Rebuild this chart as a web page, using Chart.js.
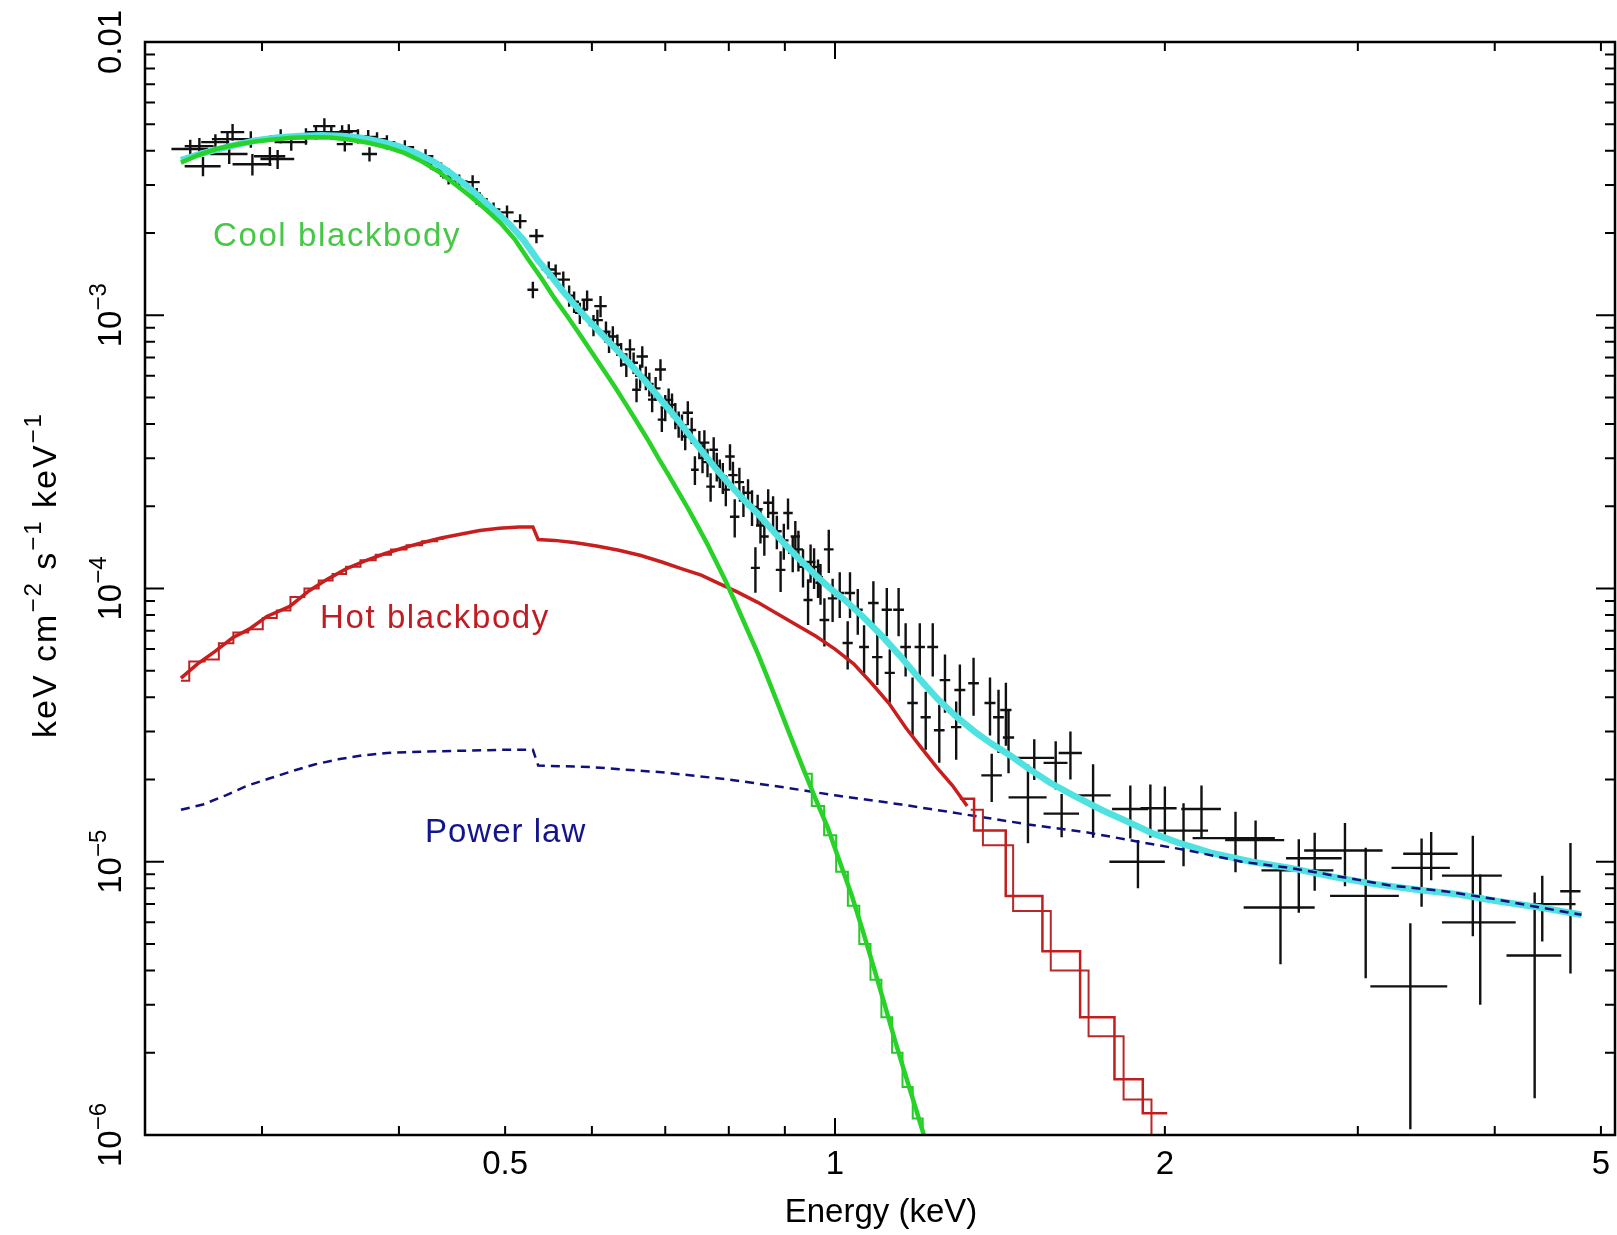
<!DOCTYPE html>
<html>
<head>
<meta charset="utf-8">
<script src="https://cdn.jsdelivr.net/npm/chart.js@4.4.1/dist/chart.umd.min.js"></script>
<style>
  html, body { margin: 0; padding: 0; background: #fff; }
  #wrap { width: 1617px; height: 1235px; }
</style>
</head>
<body>
<div id="wrap"><canvas id="spec" width="1617" height="1235"></canvas></div>
<script>
// axis limits (keV and keV cm^-2 s^-1 keV^-1)
const xMin = 0.2346, xMax = 5.15;
const yMin = 1e-6, yMax = 1e-2;

// tick marks and labels
const xTickVals = [0.3, 0.4, 0.5, 0.6, 0.7, 0.8, 0.9, 1, 2, 3, 4, 5];
const xMajorVals = [1];
const xTickLabels = [0.5, 1, 2, 5];
const yDecades = [1e-6, 1e-5, 1e-4, 1e-3, 1e-2];
const yTickLabels = [['10', '\u22126'], ['10', '\u22125'], ['10', '\u22124'], ['10', '\u22123'], ['0.01', '']];

// cool blackbody model (green)
const coolE = [0.253, 0.262, 0.272, 0.283, 0.295, 0.307, 0.320, 0.333, 0.346, 0.360, 0.375, 0.390, 0.405, 0.420,
  0.435, 0.450, 0.465, 0.480, 0.495, 0.510, 0.525, 0.540, 0.555, 0.570, 0.585, 0.600, 0.615, 0.630, 0.645, 0.660,
  0.675, 0.690, 0.705, 0.720, 0.735, 0.750, 0.765, 0.780, 0.795, 0.810, 0.830, 0.850, 0.870, 0.890, 0.910, 0.935,
  0.960, 0.985, 1.010, 1.035, 1.060, 1.085, 1.110, 1.135, 1.160, 1.185, 1.210];
const coolF = [3.62e-3, 3.85e-3, 4.05e-3, 4.2e-3, 4.32e-3, 4.4e-3, 4.46e-3, 4.48e-3, 4.47e-3, 4.4e-3, 4.28e-3, 4.12e-3, 3.92e-3, 3.65e-3,
  3.35e-3, 3.02e-3, 2.72e-3, 2.44e-3, 2.18e-3, 1.9e-3, 1.6e-3, 1.36e-3, 1.15e-3, 9.9e-4, 8.5e-4, 7.3e-4, 6.3e-4, 5.45e-4, 4.7e-4, 4.05e-4,
  3.5e-4, 3.0e-4, 2.6e-4, 2.25e-4, 1.95e-4, 1.68e-4, 1.45e-4, 1.24e-4, 1.06e-4, 9.0e-5, 7.2e-5, 5.8e-5, 4.6e-5, 3.65e-5, 2.9e-5, 2.2e-5,
  1.7e-5, 1.33e-5, 1.0e-5, 7.6e-6, 5.6e-6, 4.1e-6, 3.0e-6, 2.2e-6, 1.65e-6, 1.25e-6, 9.5e-7];
// second green histogram trace visible in the steep tail
const cool2E = [0.940, 0.965, 0.990, 1.015, 1.040, 1.065, 1.090, 1.115, 1.140, 1.165, 1.190, 1.215];
const cool2F = [2.1e-5, 1.6e-5, 1.25e-5, 9.2e-6, 6.9e-6, 5.0e-6, 3.7e-6, 2.7e-6, 2.0e-6, 1.5e-6, 1.15e-6, 8.8e-7];

// hot blackbody model (red), smooth part
const hotE = [0.253, 0.262, 0.272, 0.282, 0.292, 0.303, 0.318, 0.331, 0.344, 0.358, 0.372, 0.388, 0.404, 0.420, 0.437,
  0.455, 0.474, 0.494, 0.515, 0.530, 0.536, 0.555, 0.580, 0.606, 0.635, 0.665, 0.695, 0.725, 0.755, 0.785, 0.815, 0.850,
  0.885, 0.920, 0.960, 1.000, 1.040, 1.080, 1.120, 1.160, 1.200, 1.240, 1.280, 1.320];
const hotF = [4.7e-5, 5.3e-5, 5.9e-5, 6.6e-5, 7.1e-5, 7.9e-5, 8.6e-5, 9.8e-5, 1.08e-4, 1.18e-4, 1.26e-4, 1.34e-4, 1.41e-4, 1.47e-4, 1.53e-4,
  1.58e-4, 1.63e-4, 1.66e-4, 1.68e-4, 1.68e-4, 1.51e-4, 1.5e-4, 1.47e-4, 1.43e-4, 1.38e-4, 1.32e-4, 1.25e-4, 1.18e-4, 1.12e-4, 1.04e-4, 9.7e-5, 8.9e-5,
  8.1e-5, 7.4e-5, 6.7e-5, 6.0e-5, 5.3e-5, 4.5e-5, 3.8e-5, 3.1e-5, 2.6e-5, 2.2e-5, 1.9e-5, 1.6e-5];
// red histogram tail, first binning
const hotTailE = [1.300, 1.380, 1.485, 1.610, 1.740, 1.860, 1.960, 2.010];
const hotTailF = [1.7e-5, 1.3e-5, 7.5e-6, 4.7e-6, 2.7e-6, 1.6e-6, 1.2e-6, 1.2e-6];
// red histogram tail, second binning
const hotTail2E = [1.330, 1.400, 1.510, 1.640, 1.770, 1.900, 1.990, 2.020];
const hotTail2F = [1.55e-5, 1.15e-5, 6.6e-6, 4.0e-6, 2.3e-6, 1.35e-6, 1.0e-6, 1.0e-6];
// red histogram steps at low energy
const hotLowE = [0.253, 0.262, 0.270, 0.278, 0.287, 0.296, 0.305, 0.314, 0.323, 0.333, 0.343, 0.353, 0.363, 0.375, 0.387,
  0.400, 0.413, 0.427, 0.440];
const hotLowF = [4.6e-5, 5.4e-5, 5.5e-5, 6.3e-5, 6.9e-5, 7.1e-5, 7.8e-5, 8.3e-5, 9.3e-5, 1.0e-4, 1.07e-4, 1.13e-4, 1.2e-4, 1.27e-4, 1.33e-4,
  1.39e-4, 1.44e-4, 1.49e-4, 1.52e-4];

// power law model (navy, dashed)
const plE = [0.253, 0.265, 0.278, 0.291, 0.305, 0.320, 0.335, 0.352, 0.370, 0.390, 0.420, 0.460, 0.500, 0.530, 0.536,
  0.600, 0.700, 0.800, 0.900, 1.000, 1.150, 1.300, 1.500, 1.700, 1.900, 2.100, 2.350, 2.600, 2.900, 3.200, 3.600,
  4.000, 4.400, 4.800];
const plF = [1.55e-5, 1.62e-5, 1.75e-5, 1.9e-5, 2.02e-5, 2.15e-5, 2.27e-5, 2.37e-5, 2.45e-5, 2.5e-5, 2.53e-5, 2.55e-5, 2.57e-5, 2.57e-5, 2.25e-5,
  2.22e-5, 2.12e-5, 2.0e-5, 1.87e-5, 1.75e-5, 1.62e-5, 1.5e-5, 1.37e-5, 1.28e-5, 1.18e-5, 1.1e-5, 1.0e-5, 9.5e-6, 8.8e-6, 8.2e-6, 7.8e-6,
  7.3e-6, 6.8e-6, 6.4e-6];

// total model (cyan)
const totE = [0.253, 0.265, 0.280, 0.295, 0.310, 0.325, 0.340, 0.355, 0.370, 0.385, 0.400, 0.415, 0.430, 0.445, 0.460,
  0.475, 0.490, 0.505, 0.520, 0.535, 0.550, 0.565, 0.580, 0.600, 0.620, 0.640, 0.660, 0.680, 0.700, 0.720, 0.740,
  0.760, 0.780, 0.800, 0.825, 0.850, 0.875, 0.900, 0.930, 0.960, 0.990, 1.020, 1.060, 1.100, 1.145, 1.190, 1.240,
  1.290, 1.340, 1.390, 1.445, 1.500, 1.570, 1.650, 1.750, 1.850, 1.950, 2.050, 2.200, 2.400, 2.600, 2.850, 3.100,
  3.400, 3.700, 4.000, 4.400, 4.800];
const totF = [3.7e-3, 3.92e-3, 4.15e-3, 4.35e-3, 4.47e-3, 4.53e-3, 4.56e-3, 4.53e-3, 4.45e-3, 4.32e-3, 4.15e-3, 3.92e-3, 3.65e-3, 3.33e-3, 3.0e-3,
  2.68e-3, 2.4e-3, 2.15e-3, 1.88e-3, 1.6e-3, 1.4e-3, 1.22e-3, 1.08e-3, 9.3e-4, 8.1e-4, 7.1e-4, 6.2e-4, 5.4e-4, 4.7e-4, 4.1e-4, 3.55e-4,
  3.1e-4, 2.72e-4, 2.42e-4, 2.12e-4, 1.88e-4, 1.65e-4, 1.45e-4, 1.27e-4, 1.12e-4, 1.0e-4, 9.1e-5, 7.9e-5, 6.8e-5, 5.7e-5, 4.75e-5, 3.95e-5,
  3.4e-5, 3.0e-5, 2.7e-5, 2.45e-5, 2.2e-5, 1.95e-5, 1.75e-5, 1.55e-5, 1.4e-5, 1.27e-5, 1.18e-5, 1.08e-5, 1.0e-5, 9.5e-6, 8.8e-6, 8.3e-6,
  7.9e-6, 7.6e-6, 7.2e-6, 6.8e-6, 6.4e-6];

// observed spectrum: bin centre, bin half width, flux, fractional flux error
const dataE = [0.258, 0.263, 0.265, 0.272, 0.279, 0.282, 0.280, 0.293, 0.294, 0.305, 0.310, 0.312, 0.319, 0.329,
  0.336, 0.342, 0.347, 0.355, 0.357, 0.360, 0.367, 0.375, 0.376, 0.382, 0.390, 0.405, 0.423, 0.428, 0.437, 0.444,
  0.454, 0.467, 0.471, 0.474, 0.488, 0.502, 0.516, 0.534, 0.530, 0.548, 0.565,
  0.572, 0.585, 0.594, 0.602, 0.611, 0.618, 0.627, 0.638, 0.650, 0.659, 0.667, 0.672, 0.681, 0.693, 0.695, 0.705,
  0.715, 0.725, 0.734, 0.745, 0.752, 0.760, 0.770, 0.775, 0.785, 0.795, 0.802, 0.810, 0.818, 0.833, 0.840, 0.846,
  0.855, 0.862, 0.869, 0.878, 0.892, 0.906, 0.915, 0.926, 0.935, 0.945, 0.957, 0.970, 0.978, 0.987, 0.995, 1.010,
  1.027, 1.032, 1.049, 1.063, 1.084, 1.093, 1.115, 1.122, 1.143, 1.160, 1.177, 1.195, 1.210, 1.228, 1.245, 1.260,
  1.290, 1.300, 1.338, 1.385, 1.410, 1.432, 1.440,
  1.39, 1.50, 1.52, 1.59, 1.64, 1.61, 1.72, 1.86, 1.89, 1.94, 2.00, 2.08, 2.16, 2.32, 2.42, 2.55, 2.65, 2.74,
  2.92, 3.05, 3.35, 3.43, 3.50, 3.82, 3.88, 4.35, 4.42, 4.69,
  0.556, 0.578, 0.590, 0.607, 0.622, 0.633, 0.645, 0.655, 0.664, 0.677, 0.686, 0.700, 0.710, 0.720, 0.730, 0.740,
  0.757, 0.765, 0.780, 0.790, 0.807, 0.825, 0.850, 0.885, 0.898, 0.920, 0.950, 0.965];
const dataEerr = [0.010, 0.008, 0.010, 0.008, 0.009, 0.007, 0.011, 0.009, 0.012, 0.010, 0.011, 0.007, 0.011, 0.008,
  0.007, 0.008, 0.009, 0.008, 0.006, 0.007, 0.008, 0.008, 0.006, 0.008, 0.007, 0.008, 0.007, 0.007, 0.008, 0.006,
  0.008, 0.007, 0.006, 0.008, 0.007, 0.007, 0.007, 0.008, 0.006, 0.008, 0.008,
  0.006, 0.006, 0.007, 0.006, 0.008, 0.006, 0.006, 0.006, 0.007, 0.006, 0.008, 0.006, 0.006, 0.008, 0.006, 0.007,
  0.007, 0.007, 0.008, 0.006, 0.007, 0.008, 0.007, 0.007, 0.007, 0.007, 0.008, 0.008, 0.008, 0.008, 0.008, 0.008,
  0.008, 0.008, 0.009, 0.009, 0.009, 0.009, 0.009, 0.009, 0.009, 0.009, 0.010, 0.010, 0.010, 0.010, 0.010, 0.010,
  0.011, 0.011, 0.011, 0.011, 0.012, 0.012, 0.012, 0.012, 0.013, 0.013, 0.013, 0.013, 0.013, 0.014, 0.014, 0.014,
  0.014, 0.015, 0.015, 0.016, 0.016, 0.017, 0.017,
  0.03, 0.06, 0.065, 0.04, 0.04, 0.06, 0.065, 0.07, 0.11, 0.04, 0.05, 0.11, 0.09, 0.20, 0.15, 0.19, 0.20, 0.16,
  0.24, 0.22, 0.27, 0.21, 0.20, 0.24, 0.30, 0.25, 0.32, 0.10,
  0.006, 0.006, 0.005, 0.007, 0.006, 0.006, 0.007, 0.006, 0.007, 0.006, 0.007, 0.007, 0.006, 0.007, 0.007, 0.007,
  0.007, 0.008, 0.007, 0.008, 0.008, 0.008, 0.009, 0.009, 0.009, 0.009, 0.010, 0.010];
const dataF = [4.06e-3, 4.16e-3, 3.51e-3, 4.3e-3, 4.41e-3, 4.68e-3, 3.89e-3, 4.41e-3, 3.57e-3, 3.82e-3, 3.73e-3, 4.52e-3, 4.3e-3, 4.52e-3,
  4.68e-3, 4.92e-3, 4.68e-3, 4.68e-3, 4.23e-3, 4.72e-3, 4.52e-3, 4.49e-3, 3.89e-3, 4.41e-3, 4.3e-3, 4.12e-3, 3.82e-3, 3.63e-3, 3.42e-3, 3.2e-3,
  3.09e-3, 3.07e-3, 2.73e-3, 2.66e-3, 2.44e-3, 2.38e-3, 2.21e-3, 1.95e-3, 1.24e-3, 1.47e-3, 1.35e-3,
  1.18e-3, 1.02e-3, 1.14e-3, 9.2e-4, 1.08e-3, 8.7e-4, 8.36e-4, 7.2e-4, 7.5e-4, 5.34e-4, 7.06e-4, 5.9e-4, 4.91e-4, 6.33e-4, 4.15e-4, 4.9e-4,
  4.3e-4, 3.9e-4, 4.4e-4, 2.72e-4, 3.4e-4, 3.42e-4, 2.36e-4, 3.22e-4, 2.65e-4, 2.3e-4, 3.04e-4, 1.83e-4, 2.45e-4, 2.24e-4, 1.99e-4, 1.19e-4,
  1.7e-4, 1.55e-4, 2.06e-4, 1.89e-4, 1.17e-4, 1.89e-4, 1.35e-4, 1.39e-4, 1.2e-4, 9.08e-5, 1.2e-4, 1.05e-4, 7.67e-5, 1.39e-4, 9.2e-5, 9.63e-5,
  6.32e-5, 9.63e-5, 8.36e-5, 6.11e-5, 8.85e-5, 5.61e-5, 8.36e-5, 4.91e-5, 8.36e-5, 6.11e-5, 3.81e-5, 6.11e-5, 3.38e-5, 6.11e-5, 3.03e-5, 4.62e-5,
  3.11e-5, 4.25e-5, 4.5e-5, 3.81e-5, 3.38e-5, 3.59e-5, 2.85e-5,
  2.07e-5, 1.72e-5, 2.4e-5, 2.3e-5, 2.5e-5, 1.5e-5, 1.75e-5, 1.56e-5, 1.0e-5, 1.57e-5, 1.57e-5, 1.3e-5, 1.56e-5, 1.22e-5, 1.2e-5, 6.8e-6, 9.3e-6, 1.03e-5,
  1.1e-5, 7.5e-6, 3.5e-6, 9.5e-6, 1.07e-5, 8.9e-6, 6.0e-6, 4.54e-6, 7.0e-6, 7.8e-6,
  1.42e-3, 1.12e-3, 1.05e-3, 9.6e-4, 8.0e-4, 7.8e-4, 6.6e-4, 6.7e-4, 6.0e-4, 5.6e-4, 5.4e-4, 4.6e-4, 4.7e-4, 4.0e-4, 3.6e-4, 3.8e-4,
  3.0e-4, 2.9e-4, 2.8e-4, 2.55e-4, 2.6e-4, 2.1e-4, 1.95e-4, 1.62e-4, 1.5e-4, 1.55e-4, 1.25e-4, 1.1e-4];
const dataFerr = [0.08, 0.07, 0.08, 0.07, 0.07, 0.07, 0.08, 0.07, 0.09, 0.08, 0.08, 0.06, 0.07, 0.07,
  0.06, 0.07, 0.06, 0.06, 0.06, 0.06, 0.06, 0.06, 0.06, 0.06, 0.06, 0.06, 0.06, 0.06, 0.06, 0.06,
  0.06, 0.06, 0.07, 0.06, 0.06, 0.06, 0.06, 0.06, 0.07, 0.07, 0.07,
  0.09, 0.09, 0.08, 0.09, 0.09, 0.09, 0.09, 0.10, 0.09, 0.10, 0.09, 0.10, 0.10, 0.09, 0.10, 0.10,
  0.11, 0.11, 0.10, 0.12, 0.11, 0.11, 0.12, 0.11, 0.12, 0.13, 0.11, 0.16, 0.13, 0.12, 0.15, 0.19,
  0.14, 0.15, 0.12, 0.15, 0.17, 0.13, 0.15, 0.17, 0.16, 0.19, 0.17, 0.17, 0.20, 0.18, 0.18, 0.19,
  0.20, 0.19, 0.19, 0.20, 0.20, 0.21, 0.20, 0.22, 0.20, 0.22, 0.24, 0.22, 0.24, 0.22, 0.24, 0.24,
  0.24, 0.24, 0.24, 0.24, 0.26, 0.26, 0.26,
  0.20, 0.32, 0.17, 0.20, 0.20, 0.18, 0.30, 0.22, 0.20, 0.22, 0.20, 0.26, 0.22, 0.25, 0.18, 0.38, 0.30, 0.24,
  0.26, 0.50, 0.70, 0.28, 0.20, 0.40, 0.50, 0.70, 0.27, 0.50,
  0.08, 0.09, 0.08, 0.09, 0.09, 0.09, 0.10, 0.09, 0.10, 0.10, 0.10, 0.11, 0.10, 0.11, 0.11, 0.11,
  0.12, 0.12, 0.12, 0.13, 0.12, 0.13, 0.13, 0.14, 0.15, 0.14, 0.16, 0.16];

function pts(xs, ys) {
  return xs.map(function (x, i) { return { x: x, y: ys[i] }; });
}

const FONT = '"Liberation Sans", Arial, sans-serif';

// text with superscripts; parts = [[text, isSup], ...]
function richWidth(ctx, parts, size) {
  let w = 0;
  parts.forEach(function (p) {
    ctx.font = (p[1] ? Math.round(size * 0.72) : size) + 'px ' + FONT;
    w += ctx.measureText(p[0]).width;
  });
  return w;
}
function drawRich(ctx, parts, size, x, y, rot, spacing) {
  ctx.save();
  ctx.letterSpacing = (spacing || 0) + 'px';
  ctx.translate(x, y);
  if (rot) ctx.rotate(rot);
  ctx.textBaseline = 'alphabetic';
  ctx.textAlign = 'left';
  let cx = -richWidth(ctx, parts, size) / 2;
  parts.forEach(function (p) {
    ctx.font = (p[1] ? Math.round(size * 0.72) : size) + 'px ' + FONT;
    ctx.fillText(p[0], cx, p[1] ? -size * 0.45 : 0);
    cx += ctx.measureText(p[0]).width;
  });
  ctx.restore();
}

// error crosses, drawn under the model lines
const crossPlugin = {
  id: 'crosses',
  beforeDatasetsDraw(chart) {
    const ctx = chart.ctx, xs = chart.scales.x, ys = chart.scales.y, a = chart.chartArea;
    ctx.save();
    ctx.beginPath();
    ctx.rect(a.left, a.top, a.right - a.left, a.bottom - a.top);
    ctx.clip();
    ctx.strokeStyle = '#111';
    ctx.lineWidth = 2.4;
    ctx.beginPath();
    for (let i = 0; i < dataE.length; i++) {
      const xc = xs.getPixelForValue(dataE[i]);
      const yc = ys.getPixelForValue(dataF[i]);
      ctx.moveTo(xs.getPixelForValue(dataE[i] - dataEerr[i]), yc);
      ctx.lineTo(xs.getPixelForValue(dataE[i] + dataEerr[i]), yc);
      ctx.moveTo(xc, ys.getPixelForValue(dataF[i] * (1 + dataFerr[i])));
      ctx.lineTo(xc, ys.getPixelForValue(Math.max(dataF[i] * (1 - dataFerr[i]), 1e-7)));
    }
    ctx.stroke();
    ctx.restore();
  }
};

// PGPLOT style box, inward ticks and labels
const framePlugin = {
  id: 'frame',
  afterDraw(chart) {
    const ctx = chart.ctx, xs = chart.scales.x, ys = chart.scales.y, a = chart.chartArea;
    ctx.save();
    ctx.strokeStyle = '#000';
    ctx.lineWidth = 2.5;
    ctx.strokeRect(a.left, a.top, a.right - a.left, a.bottom - a.top);

    ctx.lineWidth = 2;
    ctx.beginPath();
    yDecades.forEach(function (d) {
      for (let m = 1; m <= 9; m++) {
        const v = d * m;
        if (v > yMax * 1.0001) break;
        const py = ys.getPixelForValue(v);
        const len = m === 1 ? 19 : 10;
        ctx.moveTo(a.left, py); ctx.lineTo(a.left + len, py);
        ctx.moveTo(a.right, py); ctx.lineTo(a.right - len, py);
      }
    });
    xTickVals.forEach(function (v) {
      const px = xs.getPixelForValue(v);
      const len = xMajorVals.indexOf(v) >= 0 ? 17 : 9;
      ctx.moveTo(px, a.bottom); ctx.lineTo(px, a.bottom - len);
      ctx.moveTo(px, a.top); ctx.lineTo(px, a.top + len);
    });
    ctx.stroke();

    ctx.fillStyle = '#000';
    // x tick labels
    ctx.font = '33px ' + FONT;
    ctx.textAlign = 'center';
    ctx.textBaseline = 'middle';
    xTickLabels.forEach(function (v) {
      ctx.fillText(String(v), xs.getPixelForValue(v), 1165);
    });
    ctx.fillText('Energy (keV)', 881, 1213);

    // y tick labels, rotated
    yDecades.forEach(function (d, i) {
      const lab = yTickLabels[i];
      const parts = lab[1] ? [[lab[0], false], [lab[1], true]] : [[lab[0], false]];
      drawRich(ctx, parts, 33, 121, ys.getPixelForValue(d), -Math.PI / 2, 0);
    });

    // y axis title
    drawRich(ctx, [['keV cm', false], ['\u22122', true], [' s', false], ['\u22121', true], [' keV', false], ['\u22121', true]],
      34, 56, 575, -Math.PI / 2, 2);

    // component annotations
    ctx.textAlign = 'left';
    ctx.textBaseline = 'middle';
    ctx.font = '33px ' + FONT;
    ctx.letterSpacing = '1.6px';
    ctx.fillStyle = 'rgb(70,200,70)';
    ctx.fillText('Cool blackbody', 213, 237);
    ctx.fillStyle = 'rgb(190,30,35)';
    ctx.fillText('Hot blackbody', 320, 619);
    ctx.letterSpacing = '1px';
    ctx.fillStyle = 'rgb(20,20,140)';
    ctx.fillText('Power law', 425, 833);
    ctx.restore();
  }
};

function stepLine(label, xs, ys, color, width) {
  return {
    label: label,
    data: pts(xs, ys),
    showLine: true,
    stepped: 'middle',
    borderColor: color,
    borderWidth: width,
    pointRadius: 0
  };
}

const ctx = document.getElementById('spec').getContext('2d');
const chart = new Chart(ctx, {
  type: 'scatter',
  data: {
    datasets: [
      {
        label: 'Cool blackbody',
        data: pts(coolE, coolF),
        showLine: true,
        borderColor: 'rgb(40,210,40)',
        borderWidth: 4.5,
        pointRadius: 0
      },
      stepLine('Cool blackbody (binned)', cool2E, cool2F, 'rgb(40,200,40)', 2),
      {
        label: 'Hot blackbody',
        data: pts(hotE, hotF),
        showLine: true,
        borderColor: 'rgb(200,30,30)',
        borderWidth: 3.5,
        pointRadius: 0
      },
      stepLine('Hot blackbody (low bins)', hotLowE, hotLowF, 'rgb(190,35,35)', 2),
      stepLine('Hot blackbody (tail)', hotTailE, hotTailF, 'rgb(195,30,30)', 2.5),
      stepLine('Hot blackbody (tail 2)', hotTail2E, hotTail2F, 'rgb(185,40,40)', 2),
      {
        label: 'Power law',
        data: pts(plE, plF),
        showLine: true,
        borderColor: 'rgb(15,15,125)',
        borderWidth: 2.5,
        borderDash: [9, 6],
        pointRadius: 0
      },
      {
        label: 'Total model',
        data: pts(totE, totF),
        showLine: true,
        borderColor: 'rgb(80,225,225)',
        borderWidth: 6.5,
        pointRadius: 0
      }
    ]
  },
  options: {
    responsive: false,
    animation: false,
    devicePixelRatio: 1,
    layout: {
      padding: { left: 145, top: 42, right: 2, bottom: 100 }
    },
    plugins: {
      legend: { display: false },
      tooltip: { enabled: false }
    },
    scales: {
      x: { type: 'logarithmic', min: xMin, max: xMax, display: false },
      y: { type: 'logarithmic', min: yMin, max: yMax, display: false }
    }
  },
  plugins: [crossPlugin, framePlugin]
});
</script>
</body>
</html>
